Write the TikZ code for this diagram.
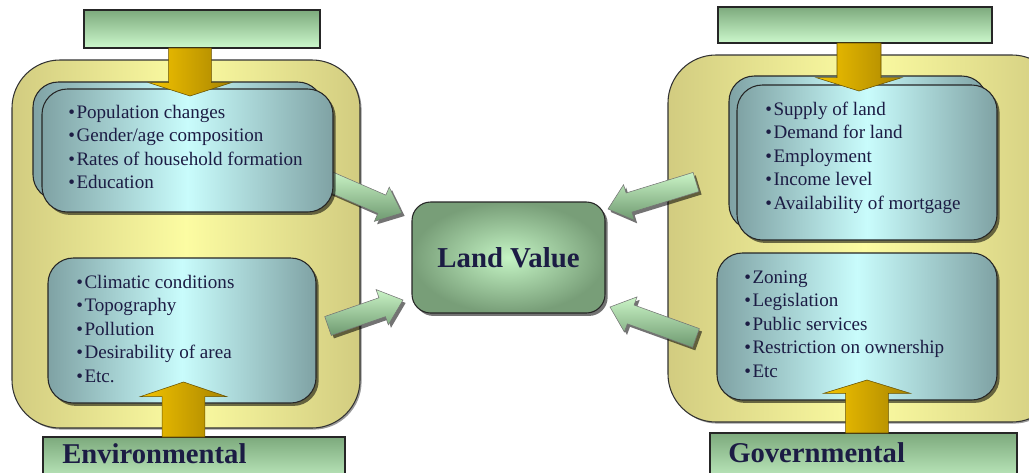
\documentclass[tikz,border=0pt]{standalone}
\usepackage{fontspec}
\setmainfont{Liberation Serif}
\usetikzlibrary{calc,shadows}

\definecolor{barlight}{HTML}{CCF8CC}
\definecolor{bardark}{HTML}{7DAA7D}
\definecolor{outerlight}{HTML}{FCFCA2}
\definecolor{outerdark}{HTML}{D2CC80}
\definecolor{listlight}{HTML}{C9FCFC}
\definecolor{listdark}{HTML}{7FA2A4}
\definecolor{goldlight}{HTML}{F4C400}
\definecolor{golddark}{HTML}{A88400}
\definecolor{arrlight}{HTML}{CAF4C6}
\definecolor{arrdark}{HTML}{6E9970}
\definecolor{valuelight}{HTML}{C4F4C4}
\definecolor{valuedark}{HTML}{789E78}
\definecolor{inktext}{HTML}{1C1C44}

\tikzset{
  softshadow/.style={drop shadow={shadow xshift=2pt, shadow yshift=-2.2pt, opacity=0.55, fill=black}},
  sideframe/.style={draw=black!80, line width=0.8pt, rounded corners=36pt,
    left color=outerdark, right color=outerdark, middle color=outerlight,
    drop shadow={shadow xshift=1.2pt, shadow yshift=-1.2pt, opacity=0.4, fill=black}},
  listbox/.style={draw=black!85, line width=0.8pt, rounded corners=19pt,
    left color=listdark, right color=listdark, middle color=listlight, softshadow},
  headbar/.style={draw=black!85, line width=0.9pt, top color=bardark, bottom color=barlight},
  goldarrow/.style={draw=golddark!60!black, line width=0.4pt, left color=goldlight, right color=golddark},
  greenarrow/.style={draw=black!55, line width=0.4pt, top color=arrlight, bottom color=arrdark, softshadow},
  valuebox/.style={draw=black!85, line width=0.8pt, rounded corners=14pt, shading=radial,
    inner color=valuelight, outer color=valuedark, minimum width=144.75pt, minimum height=83.25pt,
    font=\bfseries\fontsize{21.6}{25}\selectfont, text=inktext, softshadow},
  listline/.style={anchor=base west, inner sep=0pt, text=inktext, font=\fontsize{14.3}{17}\selectfont},
  bartitle/.style={anchor=base west, inner sep=0pt, text=inktext, font=\bfseries\fontsize{21.5}{25}\selectfont}
}

% block arrow: style, tail, tip, shaft half-width, head half-width, head length
\newcommand{\blockarrow}[6]{%
  \coordinate (ba-head) at ($(#3)!#6!(#2)$);
  \path[#1] ($(#2)!#4!90:(#3)$) -- ($(ba-head)!#4!90:(#3)$) -- ($(ba-head)!#5!90:(#3)$)
    -- (#3) -- ($(ba-head)!#5!-90:(#3)$) -- ($(ba-head)!#4!-90:(#3)$) -- ($(#2)!#4!-90:(#3)$) -- cycle;
}

% bulleted column of lines: name prefix, x, first baseline, items
\newcommand{\itemcolumn}[4]{%
  \foreach \txt [count=\i] in {#4} {
    \node[listline] (#1-\i) at (#2, {#3 + (\i-1)*23.6}) {\textbullet\hspace{1.2pt}\txt};
  }
}

\begin{document}
\begin{tikzpicture}[x=0.75pt, y=-0.75pt]
\useasboundingbox (0,0) rectangle (1029,472);
\begin{scope}
\clip (0,0) rectangle (1029,472);

% ---------- side frames ----------
\path[sideframe] (12,60) rectangle (360,428);
\path[sideframe] (668,55) rectangle (1060,422);

% ---------- arrows into the central value ----------
\node[valuebox] (value) at (508.5,257.5) {Land Value};

\coordinate (envTopTail) at (326,180);
\coordinate (envTopTip) at (402,213);
\coordinate (envLowTail) at (328,326);
\coordinate (envLowTip) at (403,300);
\coordinate (govTopTail) at (696,182);
\coordinate (govTopTip) at (608,209);
\coordinate (govLowTail) at (696,338);
\coordinate (govLowTip) at (610,307);
\blockarrow{greenarrow}{envTopTail}{envTopTip}{7.5pt}{14pt}{16.5pt}
\blockarrow{greenarrow}{envLowTail}{envLowTip}{7.5pt}{14pt}{16.5pt}
\blockarrow{greenarrow}{govTopTail}{govTopTip}{7.5pt}{14pt}{16.5pt}
\blockarrow{greenarrow}{govLowTail}{govLowTip}{7.5pt}{14pt}{16.5pt}

% ---------- list boxes ----------
\path[listbox] (33,82) rectangle (323,200);
\path[listbox] (42,89) rectangle (333,212);
\path[listbox] (48,258) rectangle (316,403);
\path[listbox] (729,76) rectangle (987,230);
\path[listbox] (737,85) rectangle (997,240);
\path[listbox] (717,253) rectangle (997,400);

% ---------- heading bars ----------
\path[headbar] (84,10) rectangle (320,48);
\path[headbar] (718,7) rectangle (992,43);
\path[headbar] (43,437) rectangle (345,490);
\path[headbar] (710,433) rectangle (1017,490);
\node[bartitle] (envTitle) at (62,463) {Environmental};
\node[bartitle] (govTitle) at (728,462) {Governmental};

% ---------- gold arrows from the bars ----------
\coordinate (envTopBar) at (190,48);
\coordinate (envTopIn) at (190,96);
\coordinate (envLowBar) at (183.5,437);
\coordinate (envLowIn) at (183.5,382);
\coordinate (govTopBar) at (859,43);
\coordinate (govTopIn) at (859,91);
\coordinate (govLowBar) at (867,433);
\coordinate (govLowIn) at (867,380);
\blockarrow{goldarrow}{envTopBar}{envTopIn}{16pt}{31pt}{10pt}
\blockarrow{goldarrow}{envLowBar}{envLowIn}{16pt}{32.5pt}{11pt}
\blockarrow{goldarrow}{govTopBar}{govTopIn}{16.5pt}{32pt}{10pt}
\blockarrow{goldarrow}{govLowBar}{govLowIn}{16pt}{32.5pt}{10pt}

% ---------- list texts ----------
\itemcolumn{envA}{68}{118}{Population changes, Gender/age composition, Rates of household formation, Education}
\itemcolumn{envB}{76}{288}{Climatic conditions, Topography, Pollution, Desirability of area, Etc.}
\itemcolumn{govA}{765}{115}{Supply of land, Demand for land, Employment, Income level, Availability of mortgage}
\itemcolumn{govB}{744}{283}{Zoning, Legislation, Public services, Restriction on ownership, Etc}
\end{scope}
\end{tikzpicture}
\end{document}
